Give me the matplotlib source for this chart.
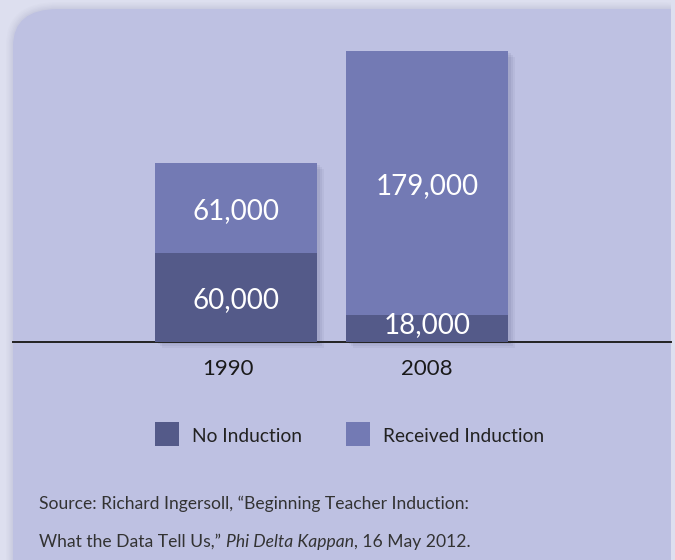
import matplotlib
matplotlib.use("Agg")
import matplotlib.pyplot as plt
from matplotlib.patches import FancyBboxPatch, Rectangle
from matplotlib import transforms

# ---- data ----
years = ["1990", "2008"]
no_induction = [60000, 18000]
received_induction = [61000, 179000]
series_names = ["No Induction", "Received Induction"]
source_line1 = "Source: Richard Ingersoll, \u201cBeginning Teacher Induction:"
source_line2_parts = [("What the Data Tell Us,\u201d ", "normal"),
                      ("Phi Delta Kappan", "italic"),
                      (", 16 May 2012.", "normal")]

# ---- style ----
W, H = 675, 560
FONT = ["Lato", "DejaVu Sans"]
plt.rcParams["font.family"] = FONT
outer_bg = "#dddfef"
panel_col = "#bec1e2"
dark = "#545a89"
light = "#737ab4"

fig = plt.figure(figsize=(W / 100, H / 100), dpi=100)
fig.patch.set_facecolor(outer_bg)

def fx(px):
    return px / W

def fy(py):
    return 1 - py / H

# panel shadow
for i, a in enumerate([0.03, 0.03, 0.04, 0.05, 0.06]):
    g = 7 - i * 1.4
    fig.add_artist(FancyBboxPatch((fx(13 - g), fy(700)), fx(700 + g), fy(9 - g) - fy(700),
                                  boxstyle="round,pad=0,rounding_size=%f" % fx(45 + g),
                                  transform=fig.transFigure, facecolor="#8a8cae",
                                  edgecolor="none", alpha=a, zorder=0))
# panel with rounded top-left corner
fig.add_artist(FancyBboxPatch((fx(13), fy(700)), fx(658 + 60), fy(9) - fy(700),
                              boxstyle="round,pad=0,rounding_size=%f" % fx(45),
                              transform=fig.transFigure, facecolor=panel_col,
                              edgecolor="none", zorder=1))
fig.add_artist(Rectangle((fx(300), fy(700)), fx(671) - fx(300), fy(9) - fy(700),
                         transform=fig.transFigure, facecolor=panel_col,
                         edgecolor="none", zorder=1))
fig.add_artist(Rectangle((fx(671), 0), 1 - fx(671), 1,
                         transform=fig.transFigure, facecolor=outer_bg,
                         edgecolor="none", zorder=1))

# ---- axes ----
base_px, top_px = 342, 40
px_per_k = 1.476
ax = fig.add_axes([fx(13), fy(base_px), fx(671) - fx(13), fy(top_px) - fy(base_px)])
ax.set_facecolor("none")
ax.set_zorder(2)
x = list(range(len(years)))
width = 162 / 191
ax.set_xlim(-(236 - 13) / 191, 1 + (671 - 427) / 191)
ax.set_ylim(0, (base_px - top_px) / px_per_k * 1000)
for s in ax.spines.values():
    s.set_visible(False)
ax.set_xticks([])
ax.set_yticks([])

totals = [a + b for a, b in zip(no_induction, received_induction)]
# soft shadows
for k, (dx, dy, al) in enumerate([(7, -6, 0.05), (5, -4, 0.06), (3, -2, 0.07)]):
    tr = transforms.offset_copy(ax.transData, fig=fig, x=dx, y=dy, units="dots")
    ax.bar(x, totals, width=width, color="#2a2d55", alpha=al, transform=tr,
           zorder=1, clip_on=False)

ax.bar(x, no_induction, width=width, color=dark, zorder=3, label=series_names[0])
ax.bar(x, received_induction, width=width, bottom=no_induction, color=light,
       zorder=3, label=series_names[1])

# baseline
ax.axhline(0, color="#222222", lw=1.4, zorder=2, clip_on=False)

# value labels
for i in x:
    n, r = no_induction[i], received_induction[i]
    ax.text(i, n + r / 2, f"{r:,}", ha="center", va="center_baseline",
            color="white", fontsize=20, zorder=5)
    ny = n / 2 if n > 40000 else n / 2 + 4000
    ax.text(i, ny, f"{n:,}", ha="center", va="center_baseline",
            color="white", fontsize=20, zorder=5)
    # year labels
    tr = transforms.offset_copy(ax.transData, fig=fig, x=(-8 if i == 0 else 0), y=0,
                                units="dots")
    ax.text(i, -25 / px_per_k * 1000, years[i], ha="center", va="center_baseline",
            color="#1a1a1a", fontsize=16, zorder=5, clip_on=False, transform=tr)

# legend
for (sx, tx, name, col) in [(155, 192, series_names[0], dark),
                            (346, 383, series_names[1], light)]:
    fig.add_artist(Rectangle((fx(sx), fy(446)), fx(24), fy(422) - fy(446),
                             transform=fig.transFigure, facecolor=col,
                             edgecolor="none", zorder=3))
    fig.text(fx(tx), fy(435), name, ha="left", va="center_baseline",
             fontsize=13.8, color="#222222", zorder=4)

# source
fig.text(fx(39), fy(502), source_line1, ha="left", va="center_baseline",
         fontsize=12.6, color="#333333", zorder=4)
renderer = fig.canvas.get_renderer()
cx = fx(39)
for txt, style in source_line2_parts:
    t = fig.text(cx, fy(540), txt, ha="left", va="center_baseline", fontsize=12.6,
                 color="#333333", style=style, zorder=4)
    bb = t.get_window_extent(renderer=renderer)
    cx = bb.x1 / fig.bbox.width

fig.savefig("out.png", dpi=100, facecolor=fig.get_facecolor())
